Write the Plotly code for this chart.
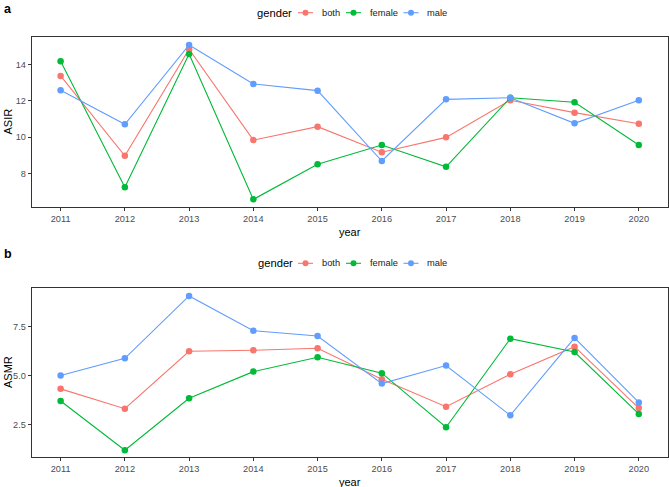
import plotly.graph_objects as go

years = [2011, 2012, 2013, 2014, 2015, 2016, 2017, 2018, 2019, 2020]

asir_both = [13.36, 8.97, 14.83, 9.83, 10.57, 9.16, 9.98, 12.02, 11.34, 10.73]
asir_female = [14.16, 7.23, 14.57, 6.57, 8.50, 9.56, 8.36, 12.16, 11.91, 9.56]
asir_male = [12.57, 10.70, 15.06, 12.92, 12.55, 8.68, 12.07, 12.16, 10.75, 12.02]

asmr_both = [4.34, 3.33, 6.26, 6.31, 6.41, 4.83, 3.43, 5.09, 6.49, 3.36]
asmr_female = [3.72, 1.21, 3.86, 5.22, 5.95, 5.14, 2.38, 6.90, 6.22, 3.06]
asmr_male = [5.02, 5.90, 9.08, 7.31, 7.04, 4.61, 5.53, 2.99, 6.94, 3.65]

asir_ticks = [8, 10, 12, 14]
asmr_ticks = [2.5, 5.0, 7.5]
asmr_ticktext = ["2.5", "5.0", "7.5"]

genders = ["both", "female", "male"]
colors = {"both": "#F8766D", "female": "#00BA38", "male": "#619CFF"}

W, H = 669, 487
fig = go.Figure()

panel_a = {"both": asir_both, "female": asir_female, "male": asir_male}
panel_b = {"both": asmr_both, "female": asmr_female, "male": asmr_male}

for g in genders:
    fig.add_trace(go.Scatter(
        x=years, y=panel_a[g], name=g, mode="lines+markers",
        line=dict(color=colors[g], width=1.1),
        marker=dict(color=colors[g], size=6.5),
        xaxis="x", yaxis="y", showlegend=False))
for g in genders:
    fig.add_trace(go.Scatter(
        x=years, y=panel_b[g], name=g, mode="lines+markers",
        line=dict(color=colors[g], width=1.1),
        marker=dict(color=colors[g], size=6.5),
        xaxis="x2", yaxis="y2", showlegend=False))


def px(x):
    return x / W


def py(y):
    return 1 - y / H


xl, xr = px(31.7), px(667.7)

axis_common = dict(
    showgrid=False, zeroline=False, showline=True, mirror=True,
    linecolor="#333333", linewidth=1, ticks="outside", ticklen=3,
    tickcolor="#333333", tickfont=dict(size=9.2, color="#4D4D4D"),
)

annotations = []
shapes = []

# panel tags
for tag, yy in (("a", 8.5), ("b", 254.3)):
    annotations.append(dict(text="<b>%s</b>" % tag, x=px(1.5), y=py(yy),
                            xanchor="left", yanchor="middle", showarrow=False,
                            font=dict(size=12.5)))

# axis titles
for yy in (231.5, 481.5):
    annotations.append(dict(text="year", x=px(350), y=py(yy), xanchor="center",
                            yanchor="middle", showarrow=False, font=dict(size=11)))
for txt, yy in (("ASIR", 122), ("ASMR", 372.5)):
    annotations.append(dict(text=txt, x=px(7.5), y=py(yy), xanchor="center",
                            yanchor="middle", textangle=-90, showarrow=False,
                            font=dict(size=11)))

# legends (one per panel)
legend_items = {"both": (298, 320), "female": (346, 367.5), "male": (403.5, 425)}
for ly, gx in ((12.7, 254.5), (263.3, 256)):
    annotations.append(dict(text="gender", x=px(gx), y=py(ly), xanchor="left",
                            yanchor="middle", showarrow=False, font=dict(size=11.2)))
    for g in genders:
        gx0, tx = legend_items[g]
        shapes.append(dict(type="line", xref="paper", yref="paper",
                           x0=px(gx0), x1=px(gx0 + 15), y0=py(ly), y1=py(ly),
                           line=dict(color=colors[g], width=1.1)))
        cx = gx0 + 7.5
        shapes.append(dict(type="circle", xref="paper", yref="paper",
                           x0=px(cx - 3), x1=px(cx + 3), y0=py(ly + 3), y1=py(ly - 3),
                           fillcolor=colors[g], line=dict(color=colors[g], width=0)))
        annotations.append(dict(text=g, x=px(tx), y=py(ly), xanchor="left",
                                yanchor="middle", showarrow=False,
                                font=dict(size=9.3, color="#1A1A1A")))

for a in annotations:
    a.setdefault("xref", "paper")
    a.setdefault("yref", "paper")

fig.update_layout(
    width=W, height=H,
    margin=dict(l=0, r=0, t=0, b=0, autoexpand=False),
    paper_bgcolor="white", plot_bgcolor="white",
    font=dict(family="Liberation Sans, Arial, sans-serif", color="black"),
    showlegend=False,
    xaxis=dict(domain=[xl, xr], anchor="y", range=[2010.55, 2020.45],
               tickvals=years, **axis_common),
    yaxis=dict(domain=[py(207), py(37)], anchor="x", range=[6.15, 15.5],
               tickvals=asir_ticks, **axis_common),
    xaxis2=dict(domain=[xl, xr], anchor="y2", range=[2010.55, 2020.45],
                tickvals=years, **axis_common),
    yaxis2=dict(domain=[py(456.7), py(288.3)], anchor="x2", range=[0.88, 9.47],
                tickvals=asmr_ticks, ticktext=asmr_ticktext, **axis_common),
    annotations=annotations,
    shapes=shapes,
)

fig.write_html("out.html", config={"displayModeBar": False},
               post_script="document.body.style.margin='0px';")
